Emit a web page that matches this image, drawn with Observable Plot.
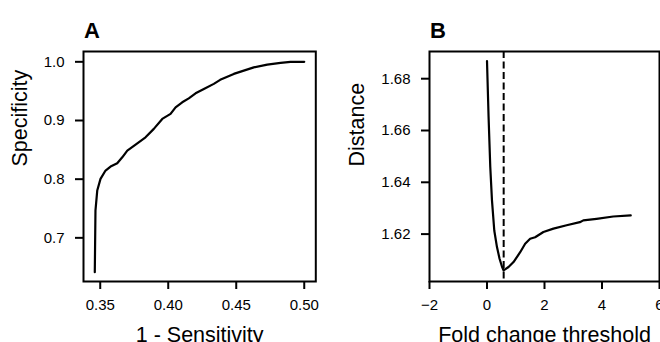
<!DOCTYPE html>
<html>
<head>
<meta charset="utf-8">
<script src="https://cdn.jsdelivr.net/npm/d3@7"></script>
<script src="https://cdn.jsdelivr.net/npm/@observablehq/plot@0.6"></script>
<style>
  html, body { margin: 0; padding: 0; background: white; }
  #wrap { display: flex; flex-direction: row; width: 660px; height: 342px; overflow: hidden; }
  #wrap > div { width: 330px; height: 342px; overflow: hidden; }
  [aria-label$="tick label"], [aria-label$="tick label"] text { font-size: 15px !important; }
</style>
</head>
<body>
<div id="wrap"><div id="a"></div><div id="b"></div></div>
<script>
// Panel A: ROC-like curve
const rocX = [0.3460, 0.3465, 0.3478, 0.3502, 0.3539, 0.3576, 0.3625, 0.3662, 0.3699, 0.3760, 0.3833, 0.3894, 0.3956, 0.4017, 0.4054, 0.4103, 0.4151, 0.4201, 0.4262, 0.4335, 0.4382, 0.4482, 0.4629, 0.4728, 0.4826, 0.4899, 0.5000];
const rocY = [0.6414, 0.7465, 0.7806, 0.8005, 0.8147, 0.8215, 0.8271, 0.8373, 0.8487, 0.8589, 0.8714, 0.8857, 0.9027, 0.9112, 0.9225, 0.9310, 0.9378, 0.9463, 0.9538, 0.9624, 0.9693, 0.9794, 0.9906, 0.9952, 0.9981, 0.9998, 1.0000];
const aXTicks = [0.35, 0.40, 0.45, 0.50];
const aYTicks = [0.7, 0.8, 0.9, 1.0];

// Panel B: distance vs fold change threshold
const thrX = [0, 0.055, 0.114, 0.173, 0.253, 0.347, 0.437, 0.52, 0.575, 0.749, 0.922, 1.154, 1.327, 1.50, 1.674, 1.962, 2.31, 2.77, 3.23, 3.35, 3.81, 4.39, 5.0];
const thrY = [1.6868, 1.6652, 1.6459, 1.6330, 1.6214, 1.6150, 1.6105, 1.6075, 1.6060, 1.6073, 1.6092, 1.6130, 1.6163, 1.6182, 1.6188, 1.6208, 1.6221, 1.6234, 1.6246, 1.6253, 1.6259, 1.6268, 1.6272];
const optimalThreshold = [0.58];
const bXTicks = [-2, 0, 2, 4, 6];
const bYTicks = [1.62, 1.64, 1.66, 1.68];

const font = "'Liberation Sans', Arial, Helvetica, sans-serif";
const rocData = rocX.map((x, i) => ({x, y: rocY[i]}));
const thrData = thrX.map((x, i) => ({x, y: thrY[i]}));
const minus = d => d < 0 ? "\u2212" + Math.abs(d) : String(d);

function panel({data, xDomain, yDomain, xTicks, yTicks, xFmt, yFmt, xLabel, yLabel, letter, marginLeft, marginRight, yLabelDx, extra}) {
  return Plot.plot({
    width: 330, height: 342,
    marginLeft, marginRight, marginTop: 51, marginBottom: 61,
    style: {fontFamily: font, fontSize: "15px", color: "black", background: "white"},
    x: {domain: xDomain},
    y: {domain: yDomain},
    marks: [
      ...(extra || []),
      Plot.line(data, {x: "x", y: "y", stroke: "black", strokeWidth: 2.2}),
      Plot.frame({stroke: "black", strokeWidth: 2}),
      Plot.axisX({ticks: xTicks, tickFormat: xFmt, tickSize: 8, tickPadding: 10, strokeWidth: 2, label: null, fontSize: 15}),
      Plot.axisY({ticks: yTicks, tickFormat: yFmt, tickSize: 8, tickPadding: 11, strokeWidth: 2, label: null, fontSize: 15}),
      Plot.text([xLabel], {frameAnchor: "bottom", lineAnchor: "top", dy: 45.2, fontSize: 21.5, fill: "black"}),
      Plot.text([yLabel], {frameAnchor: "left", lineAnchor: "middle", rotate: -90, dx: yLabelDx, fontSize: 21.5, fill: "black"}),
      Plot.text([letter], {frameAnchor: "top-left", textAnchor: "start", lineAnchor: "bottom", dx: 0.5, dy: -13.3, fontSize: 22, fontWeight: "bold", fill: "black"})
    ]
  });
}

document.getElementById("a").append(panel({
  data: rocData,
  xDomain: [0.3377, 0.5085], yDomain: [0.6256, 1.0176],
  xTicks: aXTicks, yTicks: aYTicks,
  xFmt: d3.format(".2f"), yFmt: d3.format(".1f"),
  xLabel: "1 - Sensitivity", yLabel: "Specificity", letter: "A",
  marginLeft: 83, marginRight: 14.7, yLabelDx: -63
}));

document.getElementById("b").append(panel({
  data: thrData,
  xDomain: [-2, 6], yDomain: [1.6017, 1.6905],
  xTicks: bXTicks, yTicks: bYTicks,
  xFmt: minus, yFmt: d3.format(".2f"),
  xLabel: "Fold change threshold", yLabel: "Distance", letter: "B",
  marginLeft: 99, marginRight: 1, yLabelDx: -72.5,
  extra: [Plot.ruleX(optimalThreshold, {stroke: "black", strokeWidth: 2, strokeDasharray: "7,3.5"})]
}));
</script>
</body>
</html>
